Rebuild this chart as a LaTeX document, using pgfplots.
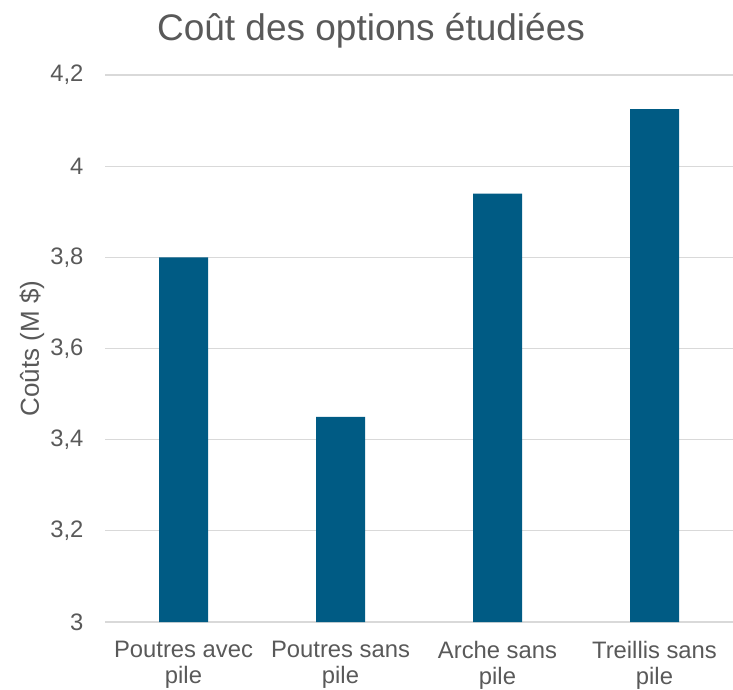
\documentclass[border=0pt]{standalone}
\usepackage{fontspec}
\setmainfont{Liberation Sans}
\usepackage{pgfplots}
\pgfplotsset{compat=1.18}
\definecolor{barblue}{HTML}{005B84}
\definecolor{txtgray}{HTML}{595959}
\definecolor{gridgray}{HTML}{D9D9D9}
\begin{document}
\begin{tikzpicture}
\path[use as bounding box] (0pt,0pt) rectangle (733pt,689pt);
\begin{axis}[
  at={(105pt,67pt)}, anchor=south west,
  scale only axis, width=628pt, height=547pt,
  xmin=-0.5, xmax=3.5, ymin=3, ymax=4.2,
  ytick={3,3.2,3.4,3.6,3.8,4,4.2},
  yticklabels={3,{3,2},{3,4},{3,6},{3,8},4,{4,2}},
  xtick={0,1,2,3},
  xticklabels={{Poutres avec\\pile},{Poutres sans\\pile},{Arche sans\\pile},{Treillis sans\\pile}},
  xticklabel style={align=center, font=\fontsize{23.8}{26}\selectfont, text=txtgray, yshift=-11pt},
  yticklabel style={font=\fontsize{23.8}{26}\selectfont, text=txtgray, xshift=-18pt},
  tick style={draw=none},
  ymajorgrids, grid style={gridgray, line width=1.2pt},
  axis x line*=bottom,
  axis y line*=left,
  y axis line style={draw=none},
  x axis line style={gridgray, line width=1.2pt, -},
  ylabel={Coûts (M \$)},
  ylabel style={font=\fontsize{26}{28}\selectfont, text=txtgray, at={(axis description cs:-0.1162,0.5)}, anchor=center},
  title={Coût des options étudiées},
  title style={font=\fontsize{37}{40}\selectfont, text=txtgray, at={(axis description cs:0.5,1)}, xshift=-48pt, yshift=17pt},
  ybar, bar width=49pt,
  clip=true,
]
\addplot[fill=barblue, draw=none, bar shift=0pt] coordinates {(0,3.80) (1,3.45) (2,3.94) (3,4.125)};
\end{axis}
\end{tikzpicture}
\end{document}
